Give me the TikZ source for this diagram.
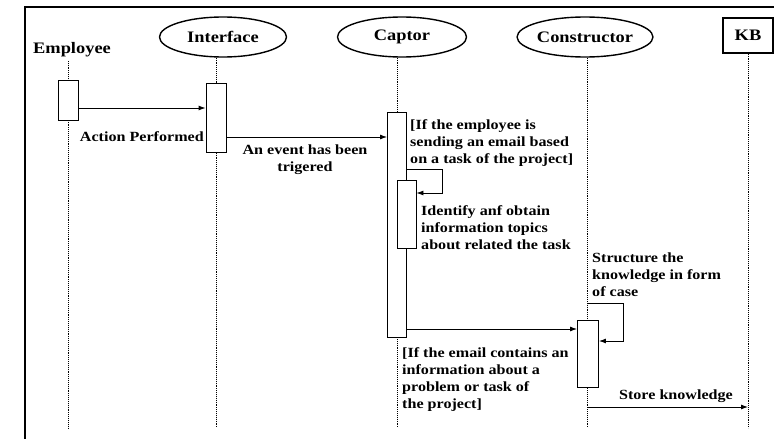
\documentclass[tikz,border=0pt]{standalone}
\usepackage{fontspec}
\setmainfont[FakeStretch=1.15]{Liberation Serif}
\usetikzlibrary{shapes.geometric,arrows.meta}

\begin{document}
\begin{tikzpicture}[x=1pt, y=-1pt,
  head/.style={font=\fontsize{16}{18}\selectfont\bfseries},
  actor/.style={head, ellipse, draw, line width=1.4pt, minimum height=40pt, inner sep=0pt},
  act/.style={draw, fill=white, line width=0.9pt, minimum width=20pt, inner sep=0pt},
  life/.style={densely dotted, line width=0.9pt},
  msg/.style={line width=0.9pt, -{Latex[length=7pt,width=5pt]}},
  note/.style={align=left, inner sep=0pt, font=\fontsize{14}{17}\selectfont\bfseries}]
\useasboundingbox (0,0) rectangle (774,439);
\draw[line width=1.2pt] (25,439) -- (25,7) -- (774,7);
\node[head] (employee) at (72,50) {Employee};
\node[actor, minimum width=127pt] (interface) at (223,37) {Interface};
\node[actor, minimum width=129pt] (captor) at (402,37) {Captor};
\node[actor, minimum width=124pt] (constructor) at (585,37) {Constructor};
\node[head, draw, line width=1.4pt, minimum width=50pt, minimum height=35pt] (kb) at (748,35.5) {KB};
\coordinate (endE) at (68,428);
\coordinate (endI) at (216,428);
\coordinate (endC) at (397,428);
\coordinate (endK) at (587,428);
\coordinate (endKB) at (748,428);
\draw[life] (employee.south -| endE) -- (endE);
\draw[life] (interface.south -| endI) -- (endI);
\draw[life] (captor.south -| endC) -- (endC);
\draw[life] (constructor.south -| endK) -- (endK);
\draw[life] (kb.south -| endKB) -- (endKB);
\node[act, minimum height=40pt] (actE) at (68,100) {};
\node[act, minimum height=69pt] (actI) at (216,117.5) {};
\node[act, minimum height=225pt, minimum width=19pt] (actC) at (397,224.5) {};
\node[act, minimum height=68pt, minimum width=19pt] (actC2) at (406.5,214) {};
\node[act, minimum height=67pt, minimum width=21pt] (actK) at (588,353.5) {};
\draw[msg] (actE.east |- 0,108) -- (actI.west |- 0,108);
\draw[msg] (actI.east |- 0,137) -- (actC.west |- 0,137);
\draw[msg] (actC.east |- 0,169) -| (442,193) -- (actC2.east |- 0,193);
\draw[msg] (actC.east |- 0,329) -- (actK.west |- 0,329);
\draw[msg] (actK.north |- 0,303) -| (623,341) -- (actK.east |- 0,341);
\draw[msg] (actK.south |- 0,407) -- (endKB |- 0,407);
\node[note, anchor=east] (performed) at (204,137) {Action Performed};
\node[note, align=center] (event) at (305,160) {An event has been\\trigered};
\node[note, anchor=west] (ifsend) at (410,143) {[If the employee is\\sending an email based\\on a task of the project]};
\node[note, anchor=west] (identify) at (421,228) {Identify anf obtain\\information topics\\about related the task};
\node[note, anchor=west] (structure) at (592,275) {Structure the\\knowledge in form\\of case};
\node[note, anchor=west] (ifmail) at (402,380) {[If the email contains an\\information about a\\problem or task of\\the project]};
\node[note] (store) at (676,396) {Store knowledge};
\end{tikzpicture}
\end{document}
